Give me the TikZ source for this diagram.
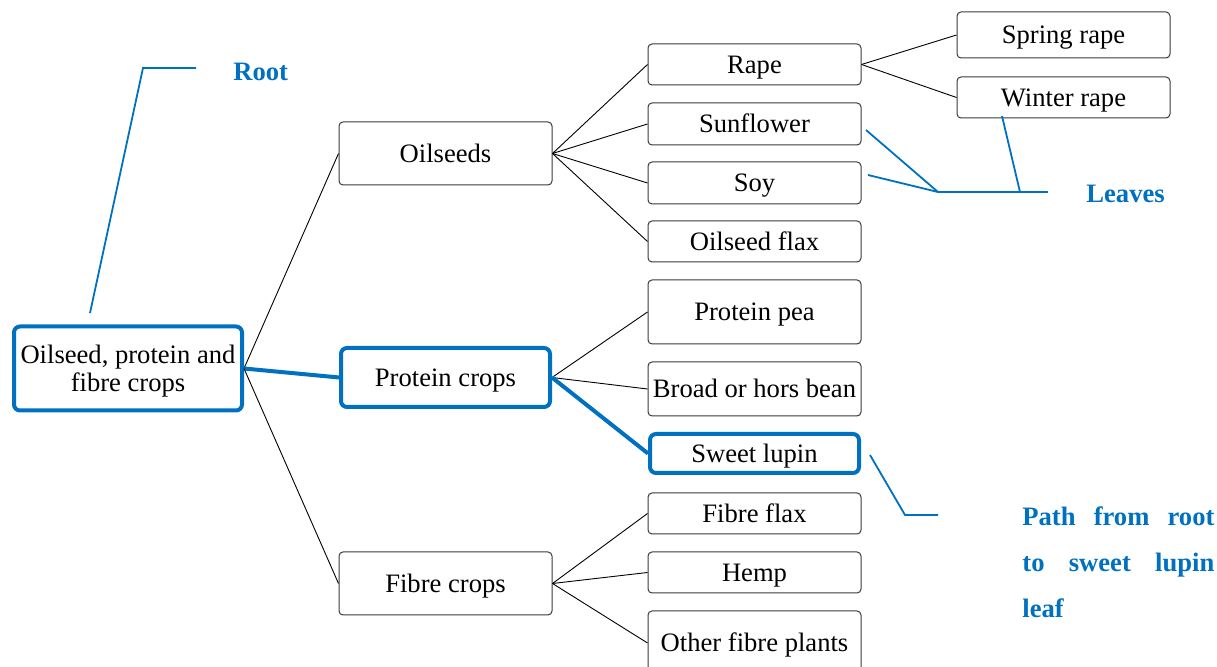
\documentclass[tikz,border=0pt]{standalone}
\usepackage{fontspec}
\setmainfont{Liberation Serif}
\definecolor{hblue}{HTML}{0070C0}
\definecolor{boxgray}{HTML}{3A3A3A}
\begin{document}
\begin{tikzpicture}[x=0.5pt,y=-0.5pt,
  every node/.style={font=\fontsize{13.3}{16}\selectfont},
  box/.style={draw=boxgray, line width=0.5pt, rounded corners=2pt, inner sep=0pt, align=center, minimum width=106.5pt, text height=9pt, text depth=0pt},
  hbox/.style={draw=hblue, line width=2pt, rounded corners=3pt, inner sep=0pt, align=center, text depth=0pt},
  conn/.style={line width=0.45pt, black},
  hconn/.style={line width=2pt, hblue},
  callout/.style={line width=0.9pt, hblue},
  lbl/.style={font=\fontsize{13.3}{16}\selectfont\bfseries, text=hblue, inner sep=0pt, anchor=base west}
]
\useasboundingbox (0,0) rectangle (1217,667);
% level 1
\node[hbox, minimum width=114pt, minimum height=42pt, font=\fontsize{13.3}{14}\selectfont] (root) at (128,368.5) {Oilseed, protein and\\fibre crops};
% level 2
\node[box, minimum height=31.5pt] (oil) at (445.5,153.5) {Oilseeds};
\node[hbox, minimum width=104.5pt, minimum height=29.5pt, text height=9pt] (prot) at (445.5,377.5) {Protein crops};
\node[box, minimum height=31.5pt] (fib) at (445.5,583.5) {Fibre crops};
% level 3
\node[box, minimum height=20.5pt] (rape) at (754.5,64.5) {Rape};
\node[box, minimum height=21pt] (sun) at (754.5,124) {Sunflower};
\node[box, minimum height=21pt] (soy) at (754.5,183) {Soy};
\node[box, minimum height=20.5pt] (oflax) at (754.5,241.5) {Oilseed flax};
\node[box, minimum height=32pt] (ppea) at (754.5,312) {Protein pea};
\node[box, minimum height=27pt] (bean) at (754.5,389) {Broad or hors bean};
\node[hbox, minimum width=104.5pt, minimum height=19.5pt, text height=9pt] (lupin) at (754.5,453.5) {Sweet lupin};
\node[box, minimum height=20.5pt] (fflax) at (754.5,513.5) {Fibre flax};
\node[box, minimum height=20.5pt] (hemp) at (754.5,572.5) {Hemp};
\node[box, minimum height=32pt] (other) at (754.5,643) {Other fibre plants};
% level 4
\node[box, minimum height=23pt] (spring) at (1063.5,35) {Spring rape};
\node[box, minimum height=20.5pt] (winter) at (1063.5,97.5) {Winter rape};
% connectors
\draw[conn] (root.east) -- (oil.west);
\draw[hconn] (root.east) -- (prot.west);
\draw[conn] (root.east) -- (fib.west);
\draw[conn] (oil.east) -- (rape.west);
\draw[conn] (oil.east) -- (sun.west);
\draw[conn] (oil.east) -- (soy.west);
\draw[conn] (oil.east) -- (oflax.west);
\draw[conn] (prot.east) -- (ppea.west);
\draw[conn] (prot.east) -- (bean.west);
\draw[hconn] (prot.east) -- (lupin.west);
\draw[conn] (fib.east) -- (fflax.west);
\draw[conn] (fib.east) -- (hemp.west);
\draw[conn] (fib.east) -- (other.west);
\draw[conn] (rape.east) -- (spring.west);
\draw[conn] (rape.east) -- (winter.west);
% Root callout
\coordinate (r1) at (90,313);
\coordinate (r2) at (143,68);
\coordinate (r3) at (196,68);
\draw[callout] (r1) -- (r2) -- (r3);
\node[lbl] (rootlbl) at (233,81) {Root};
% Leaves callout
\coordinate (l1) at (866,130);
\coordinate (l2) at (868,175);
\coordinate (l3) at (1002,116);
\coordinate (lj) at (938,192);
\coordinate (lk) at (1020,192);
\coordinate (le) at (1048,192);
\draw[callout] (l1) -- (lj);
\draw[callout] (l2) -- (lj);
\draw[callout] (l3) -- (lk);
\draw[callout] (lj) -- (le);
\node[lbl] (leaveslbl) at (1086,203) {Leaves};
% Path callout
\coordinate (p1) at (870,455);
\coordinate (p2) at (905,515);
\coordinate (p3) at (938,515);
\draw[callout] (p1) -- (p2) -- (p3);
\node[lbl] (path1) at (1022,526) {\makebox[96pt][s]{Path from root}};
\node[lbl] (path2) at (1022,572) {\makebox[96pt][s]{to sweet lupin}};
\node[lbl] (path3) at (1022,618) {leaf};
\end{tikzpicture}
\end{document}
